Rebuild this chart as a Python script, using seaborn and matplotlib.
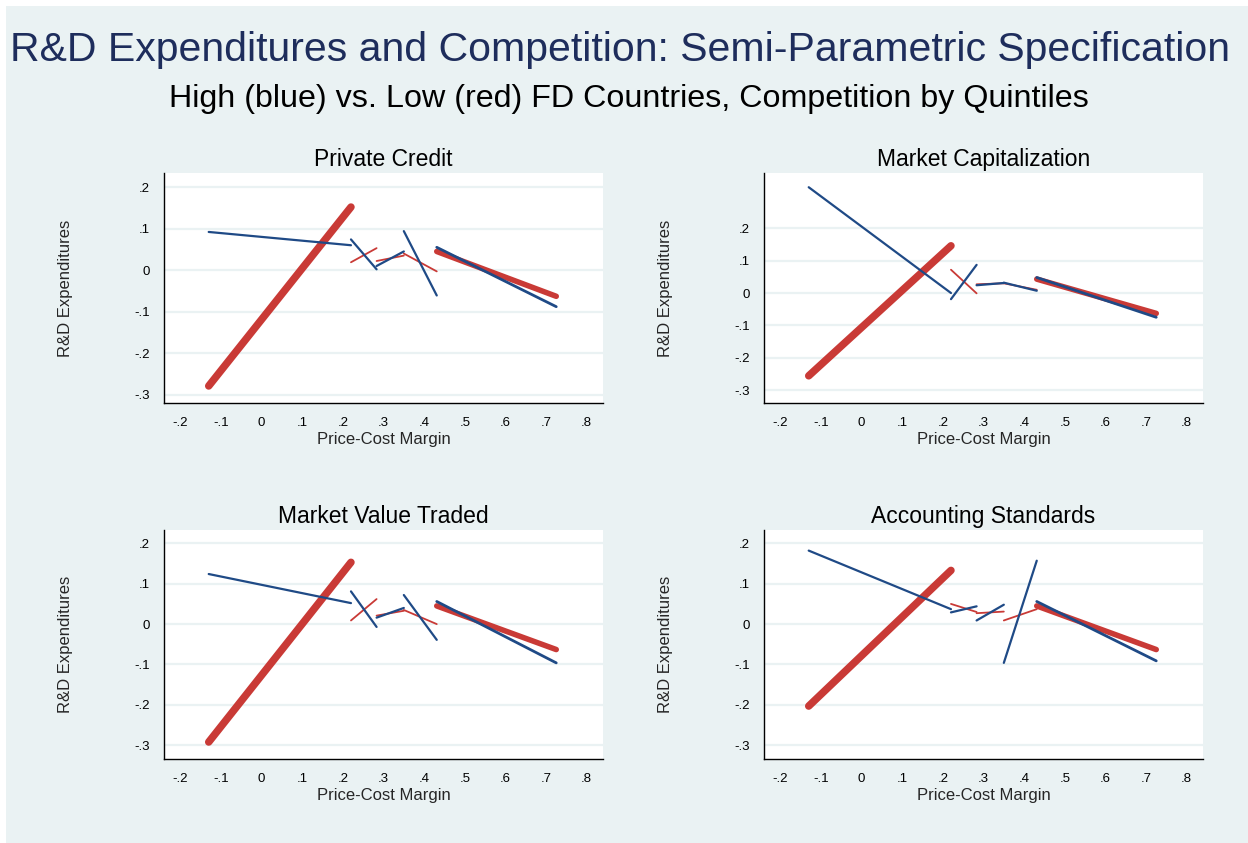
import matplotlib
matplotlib.use("Agg")
import matplotlib.pyplot as plt
import seaborn as sns
import pandas as pd
from matplotlib.patches import Rectangle


# quintile edges of the price-cost margin
quintile_edges = [-0.13, 0.22, 0.283, 0.35, 0.431, 0.725]

panel_titles = [
    "Private Credit",
    "Market Capitalization",
    "Market Value Traded",
    "Accounting Standards",
]

# (start, end) value of each quintile segment, high FD (blue) countries
high_fd = {
    "Private Credit": [(0.092, 0.060), (0.074, 0.002), (0.010, 0.045), (0.094, -0.061), (0.055, -0.088)],
    "Market Capitalization": [(0.327, 0.000), (-0.019, 0.087), (0.024, 0.031), (0.032, 0.007), (0.048, -0.075)],
    "Market Value Traded": [(0.124, 0.052), (0.081, -0.007), (0.016, 0.040), (0.072, -0.039), (0.056, -0.096)],
    "Accounting Standards": [(0.182, 0.037), (0.029, 0.044), (0.009, 0.048), (-0.096, 0.157), (0.056, -0.091)],
}

# same for low FD (red) countries
low_fd = {
    "Private Credit": [(-0.279, 0.152), (0.019, 0.053), (0.022, 0.035), (0.040, -0.003), (0.045, -0.063)],
    "Market Capitalization": [(-0.256, 0.146), (0.072, -0.001), (0.027, 0.030), (0.030, 0.010), (0.043, -0.063)],
    "Market Value Traded": [(-0.292, 0.153), (0.009, 0.062), (0.021, 0.033), (0.035, 0.000), (0.045, -0.063)],
    "Accounting Standards": [(-0.203, 0.133), (0.050, 0.030), (0.027, 0.031), (0.009, 0.037), (0.045, -0.063)],
}

x_ticks = [-0.2, -0.1, 0, 0.1, 0.2, 0.3, 0.4, 0.5, 0.6, 0.7, 0.8]
y_ticks = [-0.3, -0.2, -0.1, 0, 0.1, 0.2]

BG = "#EAF2F3"
BLUE = "#1F4A86"
RED = "#C93A36"
# line widths per quintile (the original plots many points, so some look heavier)
blue_lw = [1.6, 1.6, 1.6, 1.6, 2.0]
red_lw = [5.4, 1.3, 1.3, 1.3, 4.0]


def fmt(v):
    if abs(v) < 1e-9:
        return "0"
    s = f"{v:.1f}"
    return s.replace("0.", ".")


def build_df(name):
    rows = []
    for q in range(5):
        x0, x1 = quintile_edges[q], quintile_edges[q + 1]
        for grp, src in (("High", high_fd), ("Low", low_fd)):
            y0, y1 = src[name][q]
            rows.append({"x": x0, "y": y0, "group": grp, "q": q})
            rows.append({"x": x1, "y": y1, "group": grp, "q": q})
    return pd.DataFrame(rows)


def draw_panel(ax, name, ylim):
    df = build_df(name)
    for q in range(5):
        d = df[(df["q"] == q) & (df["group"] == "Low")]
        sns.lineplot(data=d, x="x", y="y", ax=ax, color=RED, linewidth=red_lw[q],
                     estimator=None, sort=False, solid_capstyle="round", zorder=3)
    for q in range(5):
        d = df[(df["q"] == q) & (df["group"] == "High")]
        sns.lineplot(data=d, x="x", y="y", ax=ax, color=BLUE, linewidth=blue_lw[q],
                     estimator=None, sort=False, zorder=4)
    ax.set_xlim(-0.24, 0.84)
    ax.set_ylim(*ylim)
    ax.set_xticks(x_ticks)
    ax.set_xticklabels([fmt(v) for v in x_ticks])
    ax.set_yticks(y_ticks)
    ax.set_yticklabels([fmt(v) for v in y_ticks])
    ax.set_facecolor("white")
    ax.grid(False)
    for v in y_ticks:
        ax.axhline(v, color=BG, linewidth=1.6, zorder=1)
    for side in ("top", "right"):
        ax.spines[side].set_visible(False)
    for side in ("left", "bottom"):
        ax.spines[side].set_color("black")
        ax.spines[side].set_linewidth(1.0)
    ax.tick_params(axis="both", direction="out", length=5, width=0.8, color="black",
                   labelsize=9.5, labelcolor="black", pad=5)
    ax.set_title(name, fontsize=16.5, color="black", pad=5)
    ax.set_xlabel("Price-Cost Margin", fontsize=12, labelpad=2)
    ax.set_ylabel("R&D Expenditures", fontsize=12, labelpad=44)


def main():
    sns.set_style("white")
    plt.rcParams["font.family"] = ["Liberation Sans", "DejaVu Sans"]

    fig = plt.figure(figsize=(12.48, 8.43), dpi=100, facecolor="white")
    fig.patches.append(Rectangle((6 / 1248, 0), 1, 1 - 6 / 843, transform=fig.transFigure,
                                 facecolor=BG, edgecolor="none", zorder=-10))

    W, H = 1248, 843
    boxes = [
        (164, 173, 603, 403),
        (764, 173, 1203, 403),
        (164, 530, 603, 759),
        (764, 530, 1203, 759),
    ]
    ylims = [(-0.32, 0.234), (-0.34, 0.371), (-0.334, 0.233), (-0.334, 0.233)]
    for (l, t, r, b), name, yl in zip(boxes, panel_titles, ylims):
        ax = fig.add_axes([l / W, 1 - b / H, (r - l) / W, (b - t) / H])
        draw_panel(ax, name, yl)

    fig.text(0.497, 1 - 50 / H, "R&D Expenditures and Competition: Semi-Parametric Specification",
             ha="center", va="center", fontsize=29.5, color="#1E2D5C")
    fig.text(0.504, 1 - 99 / H, "High (blue) vs. Low (red) FD Countries, Competition by Quintiles",
             ha="center", va="center", fontsize=23.2, color="black")

    fig.savefig("out.png", dpi=100, facecolor=fig.get_facecolor())


if __name__ == "__main__":
    main()
